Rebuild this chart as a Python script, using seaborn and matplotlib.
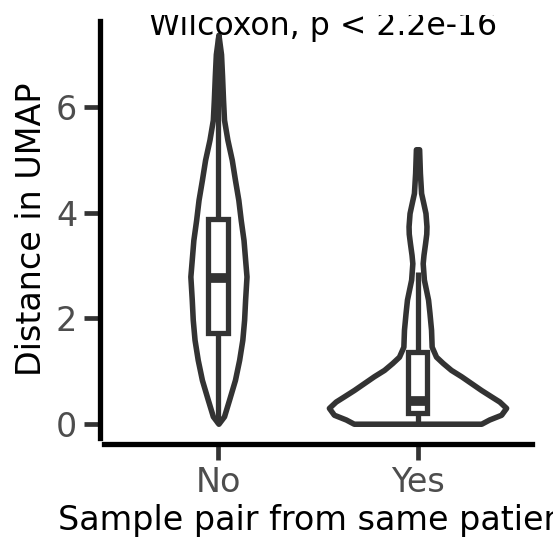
import numpy as np
import pandas as pd
import matplotlib
matplotlib.use('Agg')
import matplotlib.pyplot as plt
import seaborn as sns
from matplotlib.transforms import Bbox, TransformedBbox

# groups on the x axis
groups = ['No', 'Yes']

# box summaries: lower whisker, q1, median, q3, upper whisker
no_box = [0.0, 1.72, 2.76, 3.88, 7.3]
yes_box = [0.0, 0.21, 0.44, 1.36, 2.87]

# violin outlines: distance value and half width (category units)
no_y = [0.0, 0.14, 0.45, 0.83, 1.21, 1.59, 1.97, 2.35, 2.79, 3.11, 3.48, 3.86,
        4.24, 4.62, 5.0, 5.38, 5.76, 6.14, 6.6, 7.0, 7.37]
no_half = [0.0, 0.028, 0.053, 0.083, 0.104, 0.12, 0.129, 0.134, 0.141, 0.134, 0.126, 0.112,
           0.10, 0.083, 0.067, 0.045, 0.028, 0.023, 0.018, 0.013, 0.0]
yes_y = [0.0, 0.08, 0.17, 0.30, 0.42, 0.52, 0.64, 0.77, 0.90, 1.02, 1.15, 1.27, 1.46,
         1.78, 2.1, 2.35, 2.55, 2.73, 3.04, 3.2, 3.42, 3.6, 3.74, 3.99, 4.2, 4.37, 4.75, 5.2]
yes_half = [0.32, 0.36, 0.42, 0.445, 0.411, 0.369, 0.319, 0.269, 0.219, 0.168, 0.127, 0.093, 0.071,
            0.068, 0.06, 0.053, 0.042, 0.032, 0.026, 0.03, 0.038, 0.044, 0.045, 0.04, 0.028, 0.018, 0.012, 0.008]

test_label = 'Wilcoxon, p < 2.2e-16'

sns.set_theme(style='ticks')
plt.rcParams['font.family'] = ['DejaVu Sans']

outline = '#333333'

fig = plt.figure(figsize=(5.53, 5.53), dpi=100)
ax = fig.add_axes([0.188, 0.208, 0.774, 0.754])

# violins
for i, (ys, hw) in enumerate([(no_y, no_half), (yes_y, yes_half)]):
    ys = np.array(ys)
    hw = np.array(hw)
    ax.fill_betweenx(ys, i - hw, i + hw, facecolor='white', edgecolor=outline,
                     linewidth=4, zorder=1, joinstyle='round')

# boxes on top
df = pd.DataFrame({'pair': np.repeat(groups, 5), 'dist': no_box + yes_box})
sns.boxplot(data=df, x='pair', y='dist', order=groups, width=0.1, whis=(0, 100),
            showcaps=False, showfliers=False, color='white', linecolor=outline,
            linewidth=3.8, medianprops={'linewidth': 7, 'solid_capstyle': 'butt'},
            ax=ax, zorder=3)

ax.set_xlim(-0.575, 1.575)
ax.set_ylim(-0.27, 7.63)
ax.set_yticks([0, 2, 4, 6])
sns.despine(ax=ax)
ax.spines['left'].set_position(('outward', 3.2))
ax.spines['bottom'].set_position(('outward', 4))
for s in ['left', 'bottom']:
    ax.spines[s].set_linewidth(3.8)
    ax.spines[s].set_color('black')
ax.tick_params(length=11.5, width=3.4, color=outline, labelcolor='#4D4D4D',
               labelsize=24, pad=4.5)
ax.set_xlabel('Sample pair from same patient', fontsize=24, labelpad=4, color='black')
ax.set_ylabel('Distance in UMAP', fontsize=24, labelpad=6, color='black')

# test annotation, clipped at the top like the original
t = fig.text(0.585, 0.9367, test_label, ha='center', va='baseline', fontsize=22.7, color='black')
t.set_clip_box(TransformedBbox(Bbox([[0, 0], [1, 1 - 15 / 553]]), fig.transFigure))
t.set_clip_on(True)

fig.savefig('out.png', dpi=100)
